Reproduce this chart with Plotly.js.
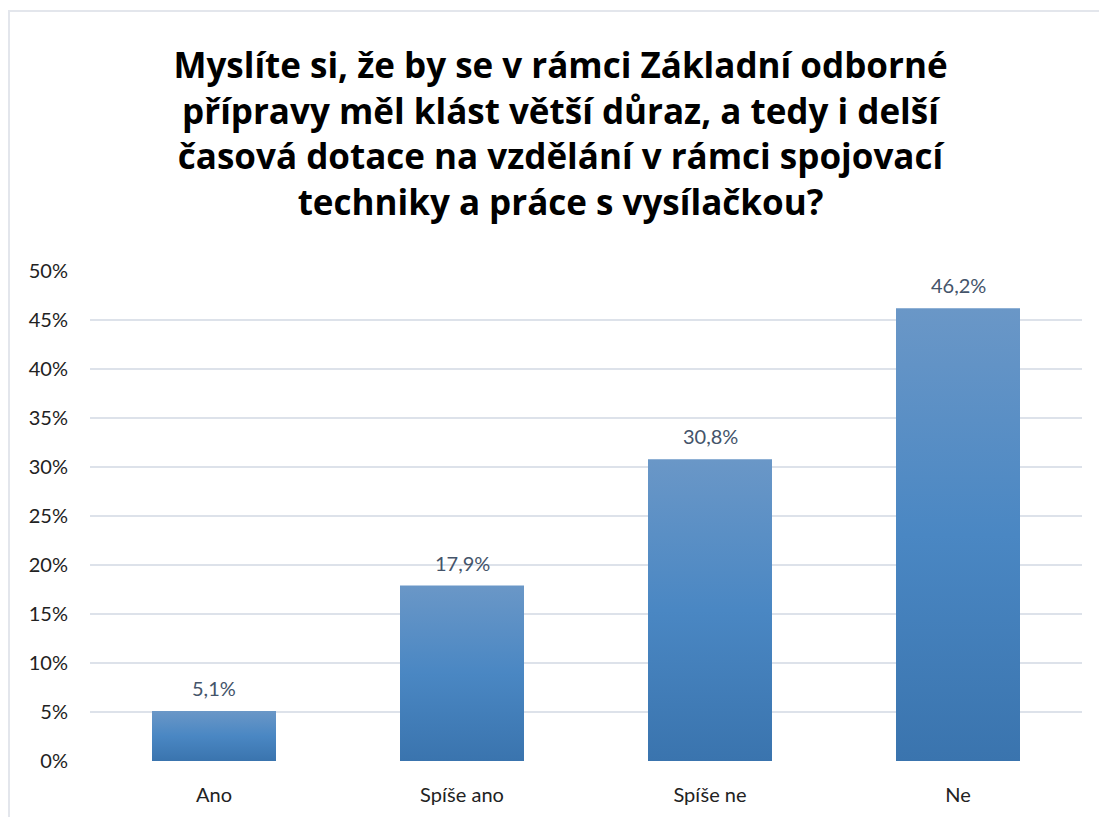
<!DOCTYPE html>
<html>
<head>
<meta charset="utf-8">
<script src="https://cdn.plot.ly/plotly-3.0.1.min.js"></script>
<style>
html,body{margin:0;padding:0;background:#fff;}
#chart{width:1099px;height:817px;}
</style>
</head>
<body>
<div id="chart"></div>
<script>
const categories = ["Ano", "Spíše ano", "Spíše ne", "Ne"];
const values = [5.1, 17.9, 30.8, 46.2];
const tickValues = [0, 5, 10, 15, 20, 25, 30, 35, 40, 45, 50];
const titleText = "Myslíte si, že by se v rámci Základní odborné<br>přípravy měl klást větší důraz, a tedy i delší<br>časová dotace na vzdělání v rámci spojovací<br>techniky a práce s vysílačkou?";

const fontFam = "Lato, 'Open Sans', sans-serif";

const trace = {
  type: "bar",
  x: categories,
  y: values,
  width: 0.5,
  marker: { color: "#4a86c2", line: { width: 0 } },
  hoverinfo: "skip"
};

const annotations = categories.map((c, i) => ({
  x: c, y: values[i], xref: "x", yref: "y",
  text: values[i].toFixed(1).replace(".", ",") + "%",
  showarrow: false, yanchor: "bottom", yshift: 9,
  font: { family: fontFam, size: 20, color: "#44546a" }
}));

const layout = {
  width: 1099, height: 817,
  margin: { l: 90, r: 17, t: 271, b: 56 },
  paper_bgcolor: "#ffffff",
  plot_bgcolor: "#ffffff",
  separators: ", ",
  showlegend: false,
  title: {
    text: titleText,
    x: 0.51, xanchor: "center",
    yref: "container",
    y: 1 - 78 / 817, yanchor: "middle",
    font: { family: "'Open Sans', sans-serif", size: 35, color: "#000000", weight: "bold" }
  },
  xaxis: {
    type: "category",
    range: [-0.5, 3.5],
    showgrid: false, zeroline: false, showline: false,
    ticks: "",
    ticklabelstandoff: 20,
    tickfont: { family: fontFam, size: 20, color: "#222222" }
  },
  yaxis: {
    range: [0, 50],
    tickvals: tickValues,
    ticktext: tickValues.map(v => v + "%"),
    showgrid: true, gridcolor: "#dde2ea", gridwidth: 1.5,
    zeroline: false, showline: false,
    ticks: "",
    ticklabelstandoff: 21,
    tickfont: { family: fontFam, size: 20, color: "#222222" }
  },
  annotations: annotations,
  shapes: [{
    type: "rect", xref: "paper", yref: "paper",
    x0: -81 / 992, x1: 1.05, y0: -0.2, y1: (817 - 11 - 56) / 490,
    line: { color: "#e3e6ec", width: 2 }, fillcolor: "rgba(0,0,0,0)", layer: "below"
  }]
};

Plotly.newPlot("chart", [trace], layout, { displayModeBar: false, staticPlot: true }).then(gd => {
  const svg = gd.querySelector("svg.main-svg");
  const ns = "http://www.w3.org/2000/svg";
  let defs = svg.querySelector("defs");
  if (!defs) { defs = document.createElementNS(ns, "defs"); svg.insertBefore(defs, svg.firstChild); }
  const grad = document.createElementNS(ns, "linearGradient");
  grad.setAttribute("id", "barGrad");
  grad.setAttribute("x1", "0"); grad.setAttribute("y1", "0");
  grad.setAttribute("x2", "0"); grad.setAttribute("y2", "1");
  [["0", "#6a97c7"], ["0.5", "#4a87c3"], ["1", "#3a74ae"]].forEach(([o, c]) => {
    const s = document.createElementNS(ns, "stop");
    s.setAttribute("offset", o); s.setAttribute("stop-color", c);
    grad.appendChild(s);
  });
  defs.appendChild(grad);
  gd.querySelectorAll(".bars .point path").forEach(p => {
    p.style.fill = "url(#barGrad)";
  });
});
</script>
</body>
</html>
